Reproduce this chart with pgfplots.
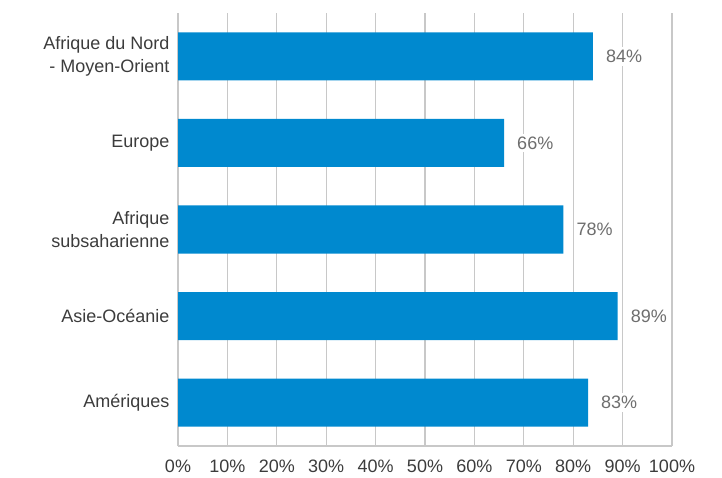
\documentclass[border=0pt]{standalone}
\usepackage{pgfplots}
\pgfplotsset{compat=1.18}
\usepackage{fontspec}
\setmainfont{Liberation Sans}
\definecolor{barblue}{HTML}{0089CF}
\definecolor{gridgray}{HTML}{C8C8C8}
\definecolor{txt}{HTML}{3C3C3C}
\definecolor{valgray}{HTML}{6E6E6E}
\begin{document}
\begin{tikzpicture}[x=1pt,y=1pt]
  \useasboundingbox (0,0) rectangle (722,477);
  \begin{axis}[
      at={(178pt,31pt)}, anchor=south west,
      scale only axis, width=494pt, height=433pt,
      xbar, bar width=48pt,
      xmin=0, xmax=100, ymin=-0.5, ymax=4.5,
      enlargelimits=false,
      xtick={0,10,...,100},
      xticklabel={\pgfmathprintnumber{\tick}\%},
      /pgf/number format/assume math mode=true,
      ytick={0,...,4},
      yticklabels={Amériques, Asie-Océanie, {Afrique\\subsaharienne}, Europe, {Afrique du Nord\\- Moyen-Orient}},
      yticklabel style={align=right, text=txt, font=\fontsize{18}{23}\selectfont, xshift=-5pt},
      xticklabel style={text=txt, font=\fontsize{18}{20}\selectfont, yshift=-10pt},
      xmajorgrids, grid style={gridgray, line width=1.1pt},
      axis x line*=bottom, axis y line*=left,
      axis line style={gridgray, line width=1.1pt, -},
      major tick length=0pt,
      nodes near coords={\pgfmathprintnumber{\pgfplotspointmeta}\%},
      nodes near coords style={anchor=west, fill=white, text=valgray, inner sep=3pt, xshift=10pt, font=\fontsize{18}{20}\selectfont},
      point meta=x,
    ]
    \addplot [fill=barblue, draw=none] coordinates {
      (83,0) (89,1) (78,2) (66,3) (84,4)
    };
  \end{axis}
\end{tikzpicture}
\end{document}
